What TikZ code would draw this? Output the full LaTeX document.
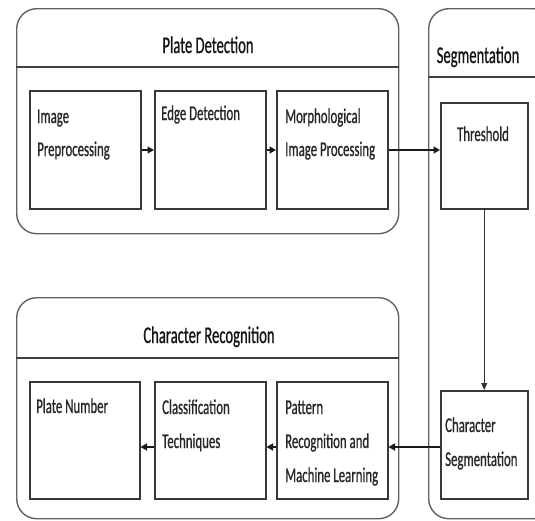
\documentclass[tikz,border=0pt]{standalone}
\usepackage{fontspec}
\setmainfont[FakeStretch=0.61,FakeBold=0.7,AutoFakeBold=0.7]{Carlito}
\newfontfamily\boxfont[FakeStretch=0.61,FakeBold=0.7]{Carlito}
\usetikzlibrary{arrows.meta}
\begin{document}
\begin{tikzpicture}[x=1pt,y=-1pt,
  group/.style={draw=black!62, line width=1.4pt, rounded corners=20pt, rectangle, inner sep=0pt, anchor=north west},
  groupline/.style={draw=black!75, line width=1.5pt},
  stepbox/.style={draw=black!78, line width=1.5pt, rectangle, inner sep=0pt, anchor=north west},
  title/.style={font=\boxfont\fontsize{24}{28}\selectfont, text=black!92, anchor=base, inner sep=0pt},
  txt/.style={font=\boxfont\fontsize{21}{25}\selectfont, text=black!85, anchor=base west, inner sep=0pt},
  flow/.style={draw=black!90, line width=1.5pt, -{Triangle[length=6.5pt,width=7pt]}},
  thinflow/.style={draw=black!80, line width=1pt, -{Triangle[length=7pt,width=6pt]}}]
\useasboundingbox (0,0) rectangle (535,520);
\begin{scope}
\clip (0,0) rectangle (535,520);
% groups
\node[group, minimum width=382pt, minimum height=225pt] (pd) at (16,8) {};
\node[group, minimum width=125pt, minimum height=510pt] (sg) at (428,8) {};
\node[group, minimum width=382pt, minimum height=221pt] (cr) at (16,297) {};
\draw[groupline] (pd.west |- 0,67) -- (pd.east |- 0,67);
\draw[groupline] (sg.west |- 0,77) -- (sg.east |- 0,77);
\draw[groupline] (cr.west |- 0,358) -- (cr.east |- 0,358);
\end{scope}
\node[title] (tpd) at (208,53) {Plate Detection};
\node[title] (tsg) at (478,63) {Segmentation};
\node[title] (tcr) at (209,343) {Character Recognition};
% boxes
\node[stepbox, minimum width=111pt, minimum height=118pt] (b1) at (29,90) {};
\node[stepbox, minimum width=111pt, minimum height=118pt] (b2) at (154,90) {};
\node[stepbox, minimum width=111pt, minimum height=118pt] (b3) at (276,90) {};
\node[stepbox, minimum width=87pt, minimum height=106pt] (th) at (440,102) {};
\node[stepbox, minimum width=87pt, minimum height=108pt] (cs) at (440,390) {};
\node[stepbox, minimum width=110pt, minimum height=117pt] (c1) at (29,381) {};
\node[stepbox, minimum width=111pt, minimum height=117pt] (c2) at (154,381) {};
\node[stepbox, minimum width=111pt, minimum height=117pt] (c3) at (276,381) {};
% texts
\node[txt] (t1a) at (37,123) {Image};
\node[txt] (t1b) at (37,156) {Preprocessing};
\node[txt] (t2a) at (161,120) {Edge Detection};
\node[txt] (t3a) at (285,123) {Morphological};
\node[txt] (t3b) at (285,156) {Image Processing};
\node[txt, anchor=base] (tth) at (483,141) {Threshold};
\node[txt] (tc1) at (36,413) {Plate Number};
\node[txt] (tc2a) at (162,414) {Classification};
\node[txt] (tc2b) at (162,448) {Techniques};
\node[txt] (tc3a) at (285,414) {Pattern};
\node[txt] (tc3b) at (285,448) {Recognition and};
\node[txt] (tc3c) at (285,482) {Machine Learning};
\node[txt] (tcsa) at (445,432) {Character};
\node[txt] (tcsb) at (445,466) {Segmentation};
% arrows
\draw[flow] (b1.east |- 0,150) -- (b2.west |- 0,150);
\draw[flow] (b2.east |- 0,150) -- (b3.west |- 0,150);
\draw[flow] (b3.east |- 0,150) -- (th.west |- 0,150);
\draw[thinflow] (th.south) -- (cs.north);
\draw[flow] (cs.west |- 0,447) -- (c3.east |- 0,447);
\draw[flow] (c3.west |- 0,447) -- (c2.east |- 0,447);
\draw[flow] (c2.west |- 0,447) -- (c1.east |- 0,447);
\end{tikzpicture}
\end{document}
